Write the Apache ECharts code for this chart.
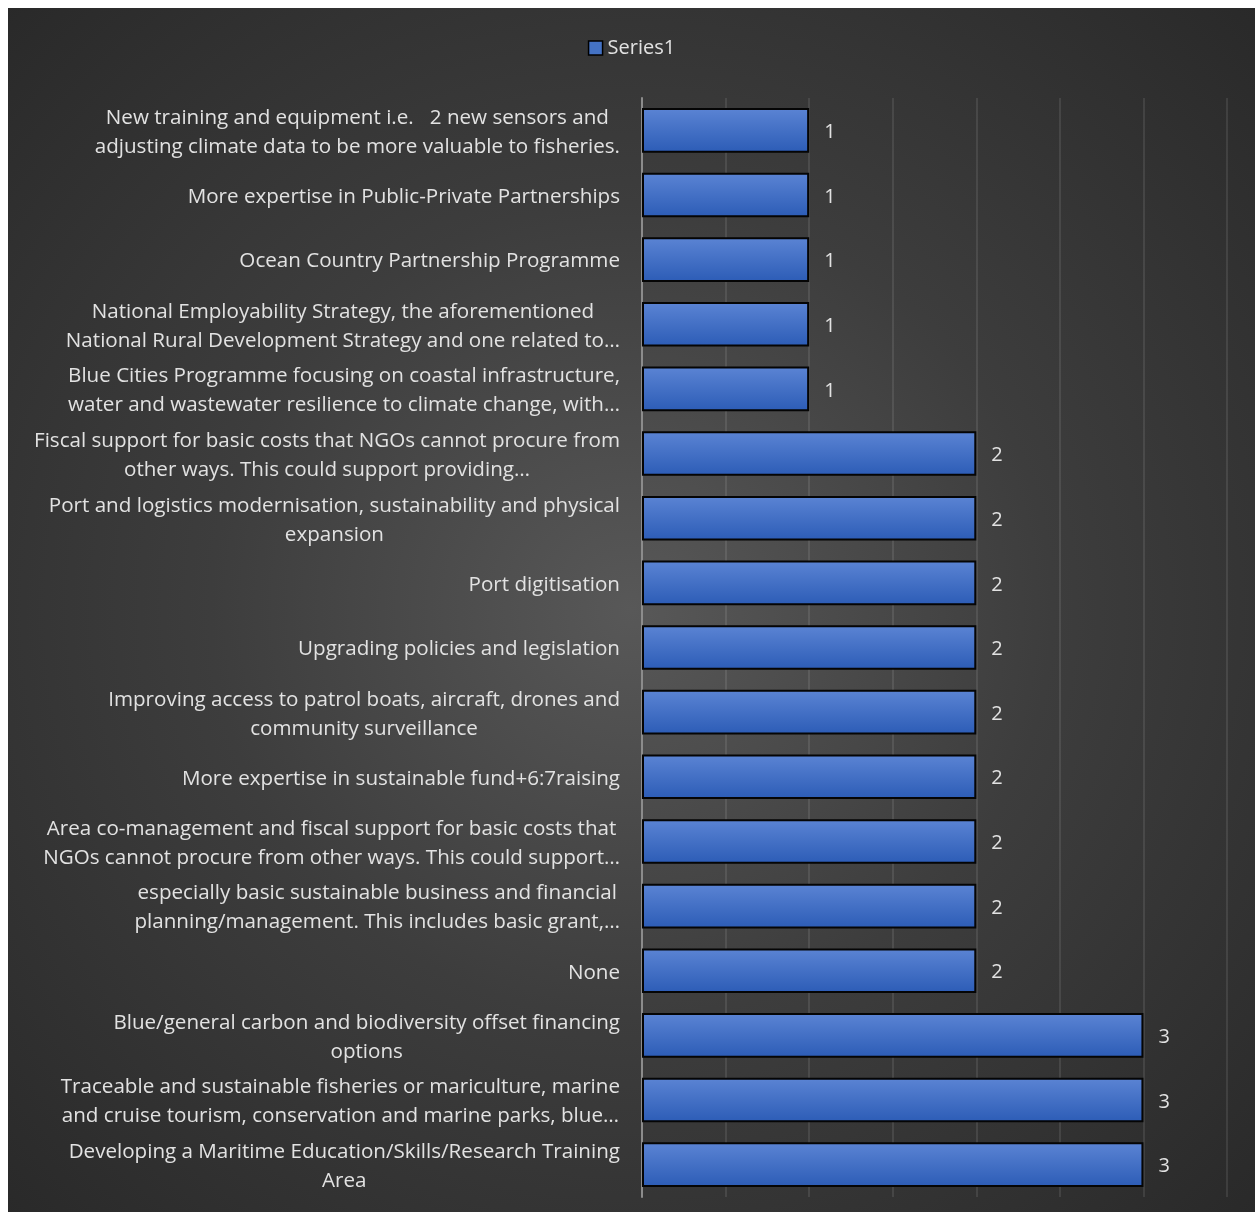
<!DOCTYPE html>
<html>
<head>
<meta charset="utf-8">
<script src="https://cdn.jsdelivr.net/npm/echarts@6/dist/echarts.min.js"></script>
<style>
  html, body { margin: 0; padding: 0; background: #ffffff; }
  #frame {
    position: absolute; left: 8px; top: 8px; width: 1247px; height: 1204px;
    background: radial-gradient(ellipse 75% 75% at 50% 50%, #585858 0%, #3d3d3d 45%, #272727 100%);
  }
  #chart { width: 1247px; height: 1204px; }
</style>
</head>
<body>
<div id="frame"><div id="chart"></div></div>
<script>
// Responses, listed top to bottom
const categories = [
  'New training and equipment i.e.   2 new sensors and\nadjusting climate data to be more valuable to fisheries.',
  'More expertise in Public-Private Partnerships',
  'Ocean Country Partnership Programme',
  'National Employability Strategy, the aforementioned\nNational Rural Development Strategy and one related to…',
  'Blue Cities Programme focusing on coastal infrastructure,\nwater and wastewater resilience to climate change, with…',
  'Fiscal support for basic costs that NGOs cannot procure from\nother ways. This could support providing…',
  'Port and logistics modernisation, sustainability and physical\nexpansion',
  'Port digitisation',
  'Upgrading policies and legislation',
  'Improving access to patrol boats, aircraft, drones and\ncommunity surveillance',
  'More expertise in sustainable fund+6:7raising',
  'Area co-management and fiscal support for basic costs that\nNGOs cannot procure from other ways. This could support…',
  'especially basic sustainable business and financial\nplanning/management. This includes basic grant,…',
  'None',
  'Blue/general carbon and biodiversity offset financing\noptions',
  'Traceable and sustainable fisheries or mariculture, marine\nand cruise tourism, conservation and marine parks, blue…',
  'Developing a Maritime Education/Skills/Research Training\nArea'
];
const series1 = [1, 1, 1, 1, 1, 2, 2, 2, 2, 2, 2, 2, 2, 2, 3, 3, 3];
const seriesName = 'Series1';

const FONT = '"Open Sans", "Noto Sans", sans-serif';
const TEXT = '#e2e2e2';
const FS = 20.6;

const chart = echarts.init(document.getElementById('chart'), null, { renderer: 'canvas' });
chart.setOption({
  backgroundColor: 'transparent',
  animation: false,
  textStyle: { fontFamily: FONT },
  legend: {
    top: 25,
    left: 'center',
    itemWidth: 14,
    itemHeight: 14,
    itemGap: 10,
    textStyle: { color: TEXT, fontSize: 20, fontFamily: FONT, padding: [0, 0, 0, 0] },
    data: [{
      name: seriesName,
      icon: 'rect',
      itemStyle: { color: '#4472c4', borderColor: '#000000', borderWidth: 1.5 }
    }]
  },
  grid: { left: 634, right: 28, top: 90, bottom: 15 },
  xAxis: {
    type: 'value',
    min: 0,
    max: 3.5,
    interval: 0.5,
    axisLabel: { show: false },
    axisLine: { show: false },
    axisTick: { show: false },
    splitLine: { show: true, lineStyle: { color: 'rgba(255,255,255,0.13)', width: 1.5 } }
  },
  yAxis: {
    type: 'category',
    inverse: true,
    data: categories,
    axisLine: { show: true, lineStyle: { color: '#8c8c8c', width: 2 } },
    axisTick: { show: false },
    axisLabel: {
      margin: 22,
      align: 'right',
      color: TEXT,
      fontSize: FS,
      fontFamily: FONT,
      lineHeight: 29,
      padding: [4, 0, 0, 0],
      formatter: function (v) {
        return v.split('\n').map(function (l) { return '{c|' + l + '}'; }).join('\n');
      },
      rich: {
        c: { align: 'center', color: TEXT, fontSize: FS, fontFamily: FONT, lineHeight: 29 }
      }
    }
  },
  series: [{
    name: seriesName,
    type: 'bar',
    data: series1,
    barCategoryGap: '31%',
    itemStyle: {
      color: new echarts.graphic.LinearGradient(0, 0, 0, 1, [
        { offset: 0, color: '#5b84d4' },
        { offset: 1, color: '#2c5cb6' }
      ]),
      borderColor: '#050505',
      borderWidth: 2
    },
    label: {
      show: true,
      position: 'right',
      distance: 15,
      color: TEXT,
      fontSize: 20,
      fontFamily: FONT,
      offset: [0, 2]
    }
  }]
});
</script>
</body>
</html>
